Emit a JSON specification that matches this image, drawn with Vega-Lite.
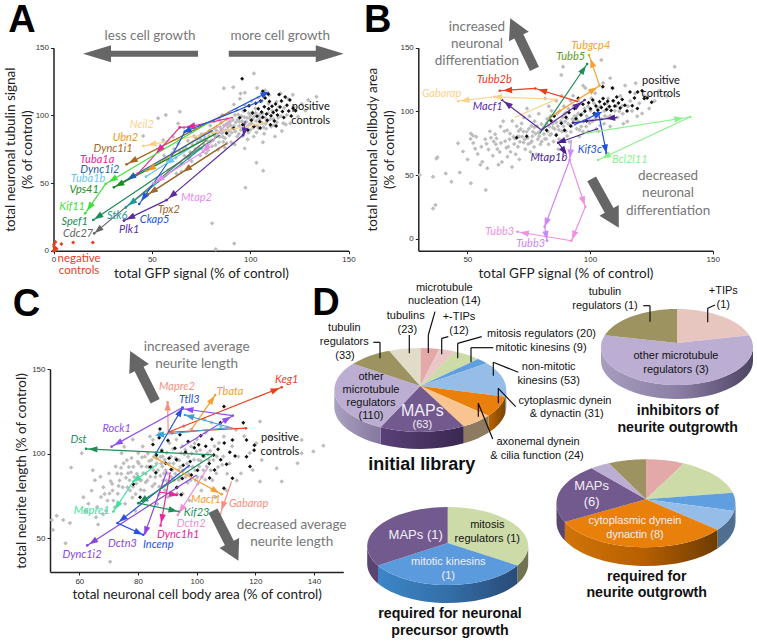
{"$schema":"https://vega.github.io/schema/vega-lite/v6.json","width":757,"height":642,"padding":0,"autosize":{"type":"none"},"background":"white",
"config":{"view":{"stroke":null},"axis":{"grid":false,"domainColor":"#222","domainWidth":1.5,"tickColor":"#222","tickSize":3,"labelFont":"Liberation Sans","labelFontSize":8,"labelColor":"#333","titleFont":"Lato","titleFontSize":13.5,"titleFontWeight":"normal","titleColor":"#222","titleLineHeight":17,"labelFlush":false},"text":{"font":"Lato"}},
"resolve":{"scale":{"x":"independent","y":"independent","color":"independent"},"axis":{"x":"independent","y":"independent"}},
"datasets":{
"grayA":[{"x":101.9,"y":131},{"x":91.4,"y":120.7},{"x":86.6,"y":120},{"x":97.3,"y":116.7},{"x":64.2,"y":102.7},{"x":57.1,"y":100.2},{"x":53.2,"y":97.8},{"x":66.4,"y":90.9},{"x":63.4,"y":94},{"x":55.8,"y":81.8},{"x":60.8,"y":84.2},{"x":45.6,"y":84.7},{"x":69.3,"y":69.5},{"x":103.2,"y":65},{"x":106.6,"y":59.1},{"x":97.6,"y":46.6},{"x":80.7,"y":20.2},{"x":91.9,"y":5.4},{"x":82.5,"y":1},{"x":58.3,"y":59.6},{"x":62.5,"y":57.1},{"x":65.1,"y":58.4},{"x":133.7,"y":113.8},{"x":129.5,"y":111.3},
{"x":56.2,"y":70.4},{"x":58.1,"y":66.3},{"x":60.4,"y":72.1},{"x":61.3,"y":75.2},{"x":62.2,"y":68.6},{"x":63.5,"y":79.1},{"x":64.4,"y":73.3},{"x":65.1,"y":64.7},{"x":66.6,"y":70.2},{"x":67.2,"y":76.4},{"x":68.3,"y":81.2},{"x":69.5,"y":72.8},{"x":70.2,"y":66.1},{"x":70.7,"y":78.3},{"x":71.4,"y":84.6},{"x":72.1,"y":75.2},{"x":73.3,"y":80.4},{"x":74.6,"y":70.3},{"x":75.2,"y":86.1},{"x":76.4,"y":78.7},{"x":77.1,"y":83.4},{"x":78.5,"y":74.2},{"x":79.3,"y":88.6},{"x":80.1,"y":81.3},{"x":71.8,"y":90.2},{"x":74.2,"y":92.4},{"x":77.6,"y":72.1},{"x":79.7,"y":92.5},{"x":81.2,"y":86.3},{"x":82.4,"y":78.1},{"x":83.1,"y":91.7},{"x":84.5,"y":84.2},{"x":85.2,"y":94.6},{"x":86.3,"y":80.5},{"x":87.6,"y":89.1},{"x":88.2,"y":97.3},{"x":89.4,"y":85.2},{"x":90.1,"y":92.7},{"x":81.6,"y":95.4},{"x":83.7,"y":74.6},{"x":85.8,"y":100.3},{"x":87.1,"y":76.2},{"x":89.6,"y":102.4},{"x":84.3,"y":97.1},{"x":86.7,"y":92.5},{"x":90.4,"y":80.1},{"x":91.2,"y":96.6},{"x":92.5,"y":88.3},{"x":93.1,"y":104.2},{"x":94.4,"y":92.1},{"x":95.6,"y":99.4},{"x":96.2,"y":84.7},{"x":97.4,"y":107.3},{"x":98.1,"y":95.2},{"x":99.3,"y":101.6},{"x":100.2,"y":89.4},{"x":91.7,"y":108.1},{"x":92.1,"y":78.4},{"x":94.8,"y":112.3},{"x":96.5,"y":103.2},{"x":98.7,"y":82.1},{"x":100.6,"y":110.4},{"x":93.4,"y":84.3},{"x":95.1,"y":116.2},{"x":99.8,"y":93.5},{"x":97.2,"y":75.6},{"x":101.3,"y":97.4},{"x":102.6,"y":105.1},{"x":103.2,"y":87.3},{"x":104.1,"y":113.2},{"x":105.4,"y":94.5},{"x":106.2,"y":101.3},{"x":107.5,"y":118.4},{"x":108.1,"y":90.2},{"x":109.3,"y":108.6},{"x":110.2,"y":97.1},{"x":101.8,"y":84.3},{"x":103.5,"y":120.2},{"x":105.7,"y":110.3},{"x":107.1,"y":86.4},{"x":109.6,"y":115.1},{"x":102.2,"y":92.6},{"x":104.7,"y":100.4},{"x":106.5,"y":80.2},{"x":111.3,"y":103.2},{"x":112.1,"y":92.7},{"x":113.4,"y":110.1},{"x":114.2,"y":98.3},{"x":115.5,"y":116.2},{"x":116.1,"y":88.4},{"x":117.3,"y":105.6},{"x":118.6,"y":100.2},{"x":119.2,"y":112.3},{"x":120.4,"y":94.1},{"x":122.1,"y":106.3},{"x":124.3,"y":99.2},{"x":126.2,"y":108.4},{"x":128.1,"y":103.5},{"x":121.7,"y":115.2},{"x":112.6,"y":84.3},{"x":116.8,"y":94.1},
{"x":75.3,"y":75.5},{"x":78.2,"y":81.2},{"x":80.6,"y":77.1},{"x":82.2,"y":84.3},{"x":84.1,"y":80.2},{"x":85.6,"y":86.7},{"x":87.2,"y":83.1},{"x":88.7,"y":91.4},{"x":90.6,"y":87.3},{"x":91.8,"y":92.2},{"x":93.6,"y":96.8},{"x":95.2,"y":89.1},{"x":96.8,"y":93.7},{"x":98.3,"y":98.2},{"x":99.1,"y":87.4},{"x":100.7,"y":94.1},{"x":102.1,"y":99.3},{"x":103.7,"y":92.2},{"x":105.1,"y":97.6},{"x":106.8,"y":91.2},{"x":108.4,"y":95.3},{"x":110.6,"y":91.7},{"x":83.4,"y":87.5},{"x":86.1,"y":84.2},{"x":89.1,"y":88.6},{"x":92.3,"y":100.3},{"x":94.2,"y":86.2},{"x":97.8,"y":90.1},{"x":101.1,"y":102.3},{"x":104.3,"y":90.4},{"x":107.6,"y":98.2},{"x":114.6,"y":106.4},{"x":118.1,"y":93.3},{"x":76.6,"y":86.1},{"x":73.8,"y":76.3},{"x":68.7,"y":68.2},{"x":66.1,"y":74.4},{"x":72.6,"y":83.2},{"x":81.9,"y":90.3},{"x":88.1,"y":79.4},
{"x":79.1,"y":84.7},{"x":81.1,"y":81.4},{"x":82.9,"y":88.6},{"x":84.8,"y":91.2},{"x":86.4,"y":88.3},{"x":87.9,"y":93.6},{"x":89.8,"y":95.2},{"x":90.9,"y":90.4},{"x":92.7,"y":94.8},{"x":93.9,"y":100.7},{"x":95.9,"y":95.6},{"x":97.1,"y":98.7},{"x":98.9,"y":92.3},{"x":100.1,"y":99.8},{"x":101.6,"y":91.1},{"x":103.1,"y":95.9},{"x":104.6,"y":96.7},{"x":106.1,"y":94.2},{"x":107.8,"y":93.8},{"x":109.1,"y":101.6},{"x":111.8,"y":97.4},{"x":113.6,"y":94.8},{"x":115.7,"y":99.3},{"x":96.4,"y":90.6},{"x":94.6,"y":95.3},{"x":88.9,"y":94.1},{"x":85.3,"y":89.4},{"x":80.4,"y":87.8},{"x":77.9,"y":78.1},{"x":74.7,"y":82.3},{"x":102.8,"y":101.7},{"x":99.7,"y":97.9}],
"blackA":[{"x":95.9,"y":127},{"x":88,"y":86.7},{"x":91.6,"y":90.4},{"x":94.7,"y":98.3},{"x":96.2,"y":93.1},{"x":97.3,"y":103.6},{"x":98.8,"y":89.2},{"x":99.4,"y":107.1},{"x":100.6,"y":96.4},{"x":101.2,"y":101.8},{"x":101.9,"y":91.7},{"x":102.8,"y":108.9},{"x":103.5,"y":99.3},{"x":104.1,"y":104.8},{"x":104.9,"y":95.2},{"x":105.3,"y":110.7},{"x":105.8,"y":102.4},{"x":106.4,"y":98.6},{"x":107.2,"y":106.3},{"x":107.6,"y":112.9},{"x":108.3,"y":101.1},{"x":108.7,"y":96.3},{"x":109.4,"y":104.9},{"x":109.8,"y":110.2},{"x":110.6,"y":99.7},{"x":111.1,"y":106.8},{"x":111.7,"y":102.2},{"x":112.3,"y":95.8},{"x":112.9,"y":108.4},{"x":113.4,"y":103.7},{"x":113.9,"y":100.2},{"x":114.7,"y":115.4},{"x":115.2,"y":106.1},{"x":115.9,"y":110.6},{"x":116.4,"y":102.9},{"x":117.1,"y":98.4},{"x":117.8,"y":113.6},{"x":118.7,"y":107.4},{"x":119.6,"y":103.2},{"x":120.2,"y":111.3},{"x":121.8,"y":105.2},{"x":123.1,"y":103.4},{"x":120.9,"y":99.6},{"x":106.4,"y":117.8},{"x":110.3,"y":93.1},{"x":113.2,"y":92.2},{"x":109.2,"y":115.7},{"x":105.1,"y":90.6}],
"neg":[{"x":0,"y":0},{"x":0.5,"y":1},{"x":1,"y":2},{"x":0.3,"y":3},{"x":1,"y":0.5},{"x":1.5,"y":1.5},{"x":1,"y":6.5},{"x":4,"y":5},{"x":10,"y":6},{"x":20,"y":6},{"x":0.2,"y":4.5}],
"arrA":[
{"g":"Neil2","x":108,"y":94.6,"x2":45.6,"y2":77.3,"hx":50.3,"hy":78.8},
{"g":"Ubn2","x":88,"y":97,"x2":47.3,"y2":59,"hx":49.8,"hy":60.8},
{"g":"Dync1i1","x":89.7,"y":102.7,"x2":37.1,"y2":63.8,"hx":40.5,"hy":66.5},
{"g":"Tuba1a","x":91.4,"y":98.5,"x2":68.5,"y2":91.4,"hx":70,"hy":91.9},
{"g":"Tuba1a","x":68.5,"y":91.4,"x2":64.2,"y2":91.1},
{"g":"Tuba1a","x":64.2,"y":91.1,"x2":43,"y2":57,"hx":54,"hy":75},
{"g":"Dync1i2","x":81,"y":89,"x2":34.6,"y2":50.2,"hx":39.7,"hy":54.5},
{"g":"Tuba1b","x":77,"y":83,"x2":47,"y2":54.7,"hx":59,"hy":66},
{"g":"Vps41","x":82.9,"y":86.7,"x2":30.7,"y2":46.8,"hx":33.7,"hy":49.1},
{"g":"Kif11","x":81.2,"y":96.6,"x2":26.6,"y2":49.5,"hx":30.3,"hy":52.7},
{"g":"Kif11","x":26.6,"y":49.5,"x2":16.1,"y2":27.6,"hx":18.5,"hy":32.6},
{"g":"Spef1","x":84.6,"y":85.5,"x2":20.2,"y2":22.7,"hx":22.9,"hy":25.3},
{"g":"Cdc27","x":77.8,"y":81.8,"x2":20.7,"y2":12.8,"hx":22.9,"hy":15.5},
{"g":"Stk6","x":76.1,"y":76.8,"x2":36.8,"y2":32,"hx":40,"hy":35.7},
{"g":"Ckap5","x":106.6,"y":111.3,"x2":66.8,"y2":88,"hx":68,"hy":88.7},
{"g":"Ckap5","x":90,"y":103,"x2":107.5,"y2":116,"hx":107.5,"hy":116},
{"g":"Ckap5","x":66.8,"y":88,"x2":59,"y2":67},
{"g":"Ckap5","x":59,"y":67,"x2":43.6,"y2":34.5,"hx":46,"hy":39.5},
{"g":"Plk1","x":96.4,"y":85.5,"x2":57.5,"y2":37.4,"hx":60.5,"hy":41.1},
{"g":"Plk1","x":97.5,"y":96,"x2":96.4,"y2":85.5,"hx":97,"hy":88},
{"g":"Plk1","x":57.5,"y":37.4,"x2":35.8,"y2":22.2,"hx":39.3,"hy":24.6},
{"g":"Tpx2","x":88,"y":79.3,"x2":48,"y2":41.6,"hx":68,"hy":60.4},
{"g":"Tpx2","x":88,"y":79.3,"x2":48,"y2":41.6,"hx":50.7,"hy":44.1},
{"g":"Mtap2","x":90,"y":97,"x2":76.1,"y2":73.2,"hx":77.5,"hy":75.6},
{"g":"Mtap2","x":76.1,"y":73.2,"x2":50.7,"y2":49.8,"hx":54,"hy":52.8}],
"labA":[{"g":"Neil2","t":"Neil2","x":44.9,"y":92.6},{"g":"Ubn2","t":"Ubn2","x":36.6,"y":83.5},{"g":"Dync1i1","t":"Dync1i1","x":30.3,"y":75.4},{"g":"Tuba1a","t":"Tuba1a","x":22.2,"y":67},{"g":"Dync1i2","t":"Dync1i2","x":23.6,"y":60},{"g":"Tuba1b","t":"Tuba1b","x":17.6,"y":53},{"g":"Vps41","t":"Vps41","x":15.6,"y":44.8},{"g":"Kif11","t":"Kif11","x":9.5,"y":32.3},{"g":"Spef1","t":"Spef1","x":10.8,"y":21.4},{"g":"Cdc27","t":"Cdc27","x":12.5,"y":12},{"g":"Stk6","t":"Stk6","x":32.4,"y":26},{"g":"Ckap5","t":"Ckap5","x":51.4,"y":22.7},{"g":"Plk1","t":"Plk1","x":38.5,"y":15.3},{"g":"Tpx2","t":"Tpx2","x":58.6,"y":30},{"g":"Mtap2","t":"Mtap2","x":72.7,"y":38.7}],
"grayB":[{"x":30.6,"y":50},{"x":37.4,"y":63},{"x":37.8,"y":64},{"x":46.2,"y":74.9},{"x":36,"y":48.7},{"x":41.2,"y":51.3},{"x":43.5,"y":44.8},{"x":46.9,"y":52},{"x":51.4,"y":43.5},{"x":57.5,"y":38.2},{"x":36,"y":23.8},{"x":37,"y":26.4},{"x":51.4,"y":82.7},{"x":52.3,"y":81},
{"x":48.2,"y":68.4},{"x":50.1,"y":62.3},{"x":52.4,"y":75.2},{"x":51.3,"y":78.4},{"x":53.6,"y":80.1},{"x":54.2,"y":66.5},{"x":55.7,"y":72.3},{"x":56.1,"y":60.4},{"x":57.3,"y":78.2},{"x":58.6,"y":70.1},{"x":59.2,"y":84.3},{"x":60.4,"y":65.2},{"x":55.3,"y":58.1},{"x":58.1,"y":55.4},{"x":53.2,"y":70.6},{"x":60.7,"y":76.3},{"x":61.3,"y":82.1},{"x":62.2,"y":70.4},{"x":63.5,"y":88.2},{"x":64.1,"y":60.3},{"x":65.4,"y":76.6},{"x":66.2,"y":85.1},{"x":67.6,"y":68.2},{"x":68.3,"y":92.4},{"x":69.1,"y":74.3},{"x":70.4,"y":80.2},{"x":62.7,"y":58.1},{"x":64.6,"y":92.2},{"x":66.3,"y":64.4},{"x":68.2,"y":56.3},{"x":70.1,"y":88.4},{"x":61.6,"y":74.2},{"x":65.1,"y":84.3},{"x":67.2,"y":78.1},{"x":69.7,"y":66.3},{"x":63.2,"y":68.1},{"x":71.4,"y":76.2},{"x":72.1,"y":90.4},{"x":73.6,"y":70.3},{"x":74.2,"y":84.1},{"x":75.3,"y":96.2},{"x":76.5,"y":80.4},{"x":77.2,"y":72.1},{"x":78.4,"y":88.3},{"x":79.1,"y":98.2},{"x":80.3,"y":76.4},{"x":71.2,"y":62.3},{"x":73.1,"y":95.2},{"x":75.7,"y":68.1},{"x":77.4,"y":92.3},{"x":79.6,"y":84.2},{"x":72.3,"y":80.1},{"x":74.8,"y":74.3},{"x":76.1,"y":88.6},{"x":78.7,"y":78.2},{"x":80.2,"y":90.1},{"x":74.3,"y":102.2},{"x":78.1,"y":66.4},{"x":71.7,"y":86.2},{"x":81.2,"y":82.3},{"x":82.5,"y":94.1},{"x":83.1,"y":74.2},{"x":84.3,"y":100.4},{"x":85.6,"y":86.1},{"x":86.2,"y":108.3},{"x":87.4,"y":78.2},{"x":88.1,"y":92.3},{"x":89.3,"y":104.1},{"x":90.2,"y":84.4},{"x":81.7,"y":110.2},{"x":83.4,"y":88.1},{"x":85.2,"y":96.3},{"x":87.1,"y":70.2},{"x":89.6,"y":98.1},{"x":82.1,"y":78.3},{"x":84.7,"y":90.2},{"x":86.3,"y":82.1},{"x":88.4,"y":112.2},{"x":90.6,"y":94.3},{"x":83.2,"y":104.1},{"x":87.6,"y":100.2},{"x":85.1,"y":76.3},{"x":89.2,"y":88.4},{"x":88.3,"y":128.5},{"x":89,"y":135},{"x":91.2,"y":102.1},{"x":92.4,"y":88.3},{"x":93.1,"y":112.2},{"x":94.3,"y":96.1},{"x":95.6,"y":80.3},{"x":96.2,"y":106.2},{"x":97.4,"y":92.1},{"x":98.1,"y":118.3},{"x":99.3,"y":84.2},{"x":100.2,"y":100.4},{"x":91.6,"y":76.1},{"x":93.7,"y":96.2},{"x":95.1,"y":108.3},{"x":97.2,"y":120.1},{"x":99.6,"y":94.2},{"x":92.1,"y":108.4},{"x":94.6,"y":86.3},{"x":96.7,"y":98.1},{"x":98.4,"y":88.2},{"x":100.5,"y":110.3},{"x":95.3,"y":92.2},{"x":93.2,"y":104.1},{"x":101.2,"y":92.4},{"x":102.1,"y":114.2},{"x":103.4,"y":84.3},{"x":104.2,"y":104.1},{"x":105.3,"y":122.2},{"x":106.1,"y":96.3},{"x":107.4,"y":110.2},{"x":108.2,"y":88.1},{"x":109.3,"y":118.2},{"x":110.1,"y":100.4},{"x":101.6,"y":106.3},{"x":103.2,"y":96.1},{"x":105.7,"y":90.2},{"x":107.1,"y":102.3},{"x":109.6,"y":108.1},{"x":104.6,"y":140.3},{"x":102.6,"y":86.2},{"x":108.2,"y":126.1},{"x":111.2,"y":95.3},{"x":112.4,"y":112.1},{"x":113.1,"y":104.2},{"x":114.3,"y":120.3},{"x":115.2,"y":92.1},{"x":116.4,"y":108.2},{"x":117.1,"y":100.3},{"x":118.3,"y":114.1},{"x":119.2,"y":96.2},{"x":120.1,"y":106.3},{"x":122.2,"y":112.1},{"x":124.1,"y":102.2},{"x":126.3,"y":108.1},{"x":113.6,"y":90.2},{"x":118.6,"y":122.1},{"x":121.2,"y":98.3},{"x":134.5,"y":135},{"x":128.1,"y":116.2},{"x":131.2,"y":112.1},
{"x":72.8,"y":84.2},{"x":76.7,"y":84.1},{"x":79.3,"y":80.4},{"x":81.4,"y":88.2},{"x":82.8,"y":84.1},{"x":84.2,"y":82.3},{"x":85.8,"y":92.1},{"x":86.9,"y":88.3},{"x":88.6,"y":84.2},{"x":89.8,"y":92.1},{"x":91.1,"y":90.2},{"x":92.8,"y":94.1},{"x":93.9,"y":90.3},{"x":95.2,"y":98.4},{"x":96.4,"y":88.1},{"x":97.8,"y":102.2},{"x":98.6,"y":96.3},{"x":99.2,"y":104.1},{"x":100.8,"y":92.4},{"x":101.9,"y":98.2},{"x":103.1,"y":102.3},{"x":104.7,"y":94.1},{"x":105.8,"y":100.2},{"x":106.9,"y":106.1},{"x":108.3,"y":96.4},{"x":109.7,"y":94.2},{"x":110.8,"y":104.3},{"x":111.9,"y":100.1},{"x":113.3,"y":98.2},{"x":115.4,"y":104.1},{"x":66.7,"y":72.3},{"x":68.8,"y":80.1},{"x":70.6,"y":72.2},{"x":73.4,"y":78.1},{"x":75.1,"y":86.3},{"x":77.8,"y":82.4},{"x":80.7,"y":86.1},{"x":83.9,"y":96.2},{"x":86.6,"y":98.3},{"x":90.3,"y":99.1},
{"x":63.7,"y":75.2},{"x":65.9,"y":71.4},{"x":67.4,"y":82.6},{"x":69.3,"y":78.7},{"x":71.1,"y":80.3},{"x":72.9,"y":75.6},{"x":74.6,"y":79.1},{"x":75.9,"y":75.3},{"x":77.3,"y":87.6},{"x":78.9,"y":83.2},{"x":79.8,"y":74.1},{"x":81.6,"y":78.4},{"x":82.3,"y":90.7},{"x":83.7,"y":81.4},{"x":84.9,"y":87.1},{"x":86.2,"y":91.3},{"x":87.3,"y":85.4},{"x":88.8,"y":95.2},{"x":90.7,"y":80.6},{"x":92.2,"y":83.9},{"x":93.4,"y":92.6},{"x":95.7,"y":85.3},{"x":97.1,"y":84.1},{"x":99.8,"y":90.7},{"x":102.3,"y":94.6},{"x":104.1,"y":88.9},{"x":107.3,"y":95.1},{"x":59.6,"y":79.3},{"x":57.8,"y":74.6},{"x":61.9,"y":78.8},{"x":76.2,"y":76.6},{"x":70.9,"y":84.5}],
"blackB":[{"x":70.1,"y":79.2},{"x":74.2,"y":80.4},{"x":82.3,"y":85.1},{"x":84.1,"y":92.6},{"x":85.4,"y":96.3},{"x":86.2,"y":81.3},{"x":88.3,"y":90.7},{"x":89.6,"y":85.2},{"x":90.2,"y":95.4},{"x":91.4,"y":99.1},{"x":92.1,"y":88.6},{"x":93.7,"y":102.3},{"x":94.3,"y":94.2},{"x":95.2,"y":110.4},{"x":96.3,"y":97.1},{"x":97.1,"y":105.6},{"x":97.9,"y":100.1},{"x":98.6,"y":92.4},{"x":99.4,"y":106.7},{"x":100.2,"y":102.1},{"x":101.1,"y":108.9},{"x":101.7,"y":98.3},{"x":102.4,"y":104.2},{"x":103.2,"y":100.9},{"x":103.9,"y":107.6},{"x":104.6,"y":103.1},{"x":105.3,"y":110.2},{"x":105.9,"y":105.7},{"x":106.7,"y":101.4},{"x":107.2,"y":107.9},{"x":107.9,"y":103.8},{"x":108.6,"y":100.6},{"x":109.4,"y":108.4},{"x":110.1,"y":104.3},{"x":110.9,"y":111.2},{"x":111.6,"y":106.6},{"x":112.3,"y":102.7},{"x":113.1,"y":109.3},{"x":114.2,"y":104.9},{"x":115.1,"y":100.3},{"x":116.3,"y":115.2},{"x":117.2,"y":104.4},{"x":118.1,"y":110.6},{"x":119.3,"y":102.3},{"x":121.2,"y":116.1},{"x":122.1,"y":110.2},{"x":123.3,"y":110.6},{"x":125.1,"y":107.2},{"x":119.4,"y":115.3},{"x":109.1,"y":118.4},{"x":105.2,"y":119.3}],
"arrB":[
{"g":"Tubgcp4","x":82.9,"y":94.5,"x2":103.9,"y2":120.2,"hx":101.2,"hy":116.8},
{"g":"Tubgcp4","x":103.9,"y":120.2,"x2":99.6,"y2":144.2,"hx":100.8,"hy":137.7},
{"g":"Tubb5","x":79.5,"y":82.7,"x2":98.8,"y2":137.2,"hx":97.2,"hy":132.5},
{"g":"Tubb2b","x":95.1,"y":107.6,"x2":77.7,"y2":118,"hx":80.8,"hy":116.2},
{"g":"Tubb2b","x":77.7,"y":118,"x2":63.2,"y2":116.2,"hx":66.6,"hy":116.6},
{"g":"Gabarap","x":87,"y":109.4,"x2":61.1,"y2":111.5,"hx":62.5,"hy":111.4},
{"g":"Gabarap","x":61.1,"y":111.5,"x2":46.2,"y2":108.1,"hx":49.2,"hy":108.8},
{"g":"Gabarap","x":69.3,"y":95.3,"x2":85.6,"y2":108.9},
{"g":"Macf1","x":80.2,"y":85.3,"x2":64.1,"y2":108.9,"hx":66.5,"hy":105.6},
{"g":"Macf1","x":80.2,"y":85.3,"x2":97.8,"y2":108.9,"hx":95,"hy":105},
{"g":"Mtap1b","x":111.1,"y":95.3,"x2":93,"y2":91,"hx":108.6,"hy":94.7},
{"g":"Mtap1b","x":103.3,"y":86.6,"x2":87,"y2":75.4,"hx":88.4,"hy":76.4},
{"g":"Mtap1b","x":87,"y":75.4,"x2":89.7,"y2":68.3,"hx":89.4,"hy":69},
{"g":"Kif3c","x":93.5,"y":89.3,"x2":103.5,"y2":98.4,"hx":103.2,"hy":98},
{"g":"Kif3c","x":103.5,"y":98.4,"x2":106.7,"y2":67,"hx":106.3,"hy":70.9},
{"g":"Bcl2l11","x":97.8,"y":82.7,"x2":140.8,"y2":95.6,"hx":136,"hy":94.2},
{"g":"Bcl2l11","x":140.8,"y":95.6,"x2":103.3,"y2":61.8,"hx":106.7,"hy":64.9},
{"g":"Tubb3v","x":92.4,"y":77.5,"x2":91.7,"y2":61.8,"hx":92,"hy":67},
{"g":"Tubb3v","x":91.7,"y":61.8,"x2":81.5,"y2":9.4,"hx":82.2,"hy":13},
{"g":"Tubb3v","x":81.5,"y":9.4,"x2":82.5,"y2":-1.6,"hx":82.1,"hy":2.9},
{"g":"Tubb3p","x":91.7,"y":61.8,"x2":98.1,"y2":25.1,"hx":97.2,"hy":30},
{"g":"Tubb3p","x":98.1,"y":25.1,"x2":92.4,"y2":-1.6,"hx":93.4,"hy":2.9},
{"g":"Tubb3p","x":92.4,"y":-1.6,"x2":70.4,"y2":5.5,"hx":73.4,"hy":4.5}],
"labB":[{"g":"Tubgcp4","t":"Tubgcp4","x":100.3,"y":151.3},{"g":"Tubb5l","t":"Tubb5","x":92.1,"y":142.4},{"g":"Tubb2b","t":"Tubb2b","x":61,"y":124.6},{"g":"Gabarap","t":"Gabarap","x":39.5,"y":113.6},{"g":"Macf1","t":"Macf1","x":58.3,"y":103.7},{"g":"Mtap1b","t":"Mtap1b","x":83.2,"y":63},{"g":"Kif3c","t":"Kif3c","x":99.9,"y":69.6},{"g":"Bcl2l11","t":"Bcl2l11","x":116.2,"y":61.8},{"g":"Tubb3v","t":"Tubb3","x":75.8,"y":-4.2},{"g":"Tubb3p","t":"Tubb3","x":63.2,"y":5.5}],
"grayC":[{"x":51,"y":54.9},{"x":50.6,"y":60.8},{"x":54.5,"y":60.8},{"x":52.3,"y":63.2},{"x":55.3,"y":47},{"x":70.5,"y":36},{"x":56.8,"y":59},{"x":57.2,"y":91.7},{"x":60.8,"y":100.2},
{"x":61.4,"y":74.2},{"x":63.1,"y":70.3},{"x":64.2,"y":78.1},{"x":65.3,"y":84.2},{"x":66.1,"y":68.4},{"x":67.4,"y":74.3},{"x":68.2,"y":80.1},{"x":69.6,"y":72.2},{"x":70.1,"y":88.3},{"x":62.2,"y":66.1},{"x":65.7,"y":62.3},{"x":68.1,"y":64.2},{"x":70.3,"y":76.4},{"x":64.6,"y":90.1},{"x":67.2,"y":86.3},{"x":69.1,"y":66.2},{"x":66.4,"y":58.1},{"x":71.2,"y":82.1},{"x":72.4,"y":92.3},{"x":73.1,"y":76.2},{"x":74.3,"y":88.1},{"x":75.6,"y":70.4},{"x":76.2,"y":96.1},{"x":77.1,"y":84.3},{"x":78.4,"y":92.2},{"x":79.2,"y":76.1},{"x":80.1,"y":100.3},{"x":71.6,"y":72.2},{"x":73.7,"y":84.1},{"x":75.1,"y":94.3},{"x":77.3,"y":78.2},{"x":79.6,"y":88.1},{"x":72.1,"y":68.3},{"x":74.4,"y":100.2},{"x":76.6,"y":88.4},{"x":78.1,"y":74.1},{"x":80.7,"y":84.2},{"x":75.3,"y":104.1},{"x":78.2,"y":108.3},{"x":79.1,"y":66.2},{"x":76.4,"y":80.1},{"x":81.2,"y":92.3},{"x":82.1,"y":78.2},{"x":83.4,"y":100.1},{"x":84.2,"y":86.3},{"x":85.1,"y":108.2},{"x":86.3,"y":94.1},{"x":87.2,"y":80.4},{"x":88.1,"y":102.2},{"x":89.4,"y":90.1},{"x":90.2,"y":74.3},{"x":81.6,"y":104.2},{"x":82.7,"y":88.1},{"x":83.1,"y":72.3},{"x":84.6,"y":96.2},{"x":85.7,"y":82.1},{"x":86.1,"y":100.3},{"x":87.4,"y":112.2},{"x":88.6,"y":84.1},{"x":89.1,"y":96.3},{"x":90.7,"y":106.2},{"x":81.1,"y":84.3},{"x":83.6,"y":92.1},{"x":85.3,"y":90.2},{"x":87.7,"y":98.1},{"x":89.2,"y":78.3},{"x":82.4,"y":98.2},{"x":84.1,"y":110.1},{"x":86.6,"y":70.2},{"x":88.3,"y":92.4},{"x":90.1,"y":88.3},{"x":91.2,"y":98.1},{"x":92.3,"y":84.2},{"x":93.1,"y":108.3},{"x":94.4,"y":92.1},{"x":95.2,"y":76.2},{"x":96.1,"y":102.3},{"x":97.3,"y":88.1},{"x":98.2,"y":114.2},{"x":99.1,"y":96.3},{"x":100.4,"y":82.1},{"x":91.6,"y":112.2},{"x":93.7,"y":90.1},{"x":95.1,"y":104.3},{"x":97.6,"y":72.2},{"x":99.3,"y":106.1},{"x":92.1,"y":94.2},{"x":94.7,"y":100.3},{"x":96.2,"y":86.1},{"x":98.6,"y":92.2},{"x":100.1,"y":108.3},{"x":93.3,"y":80.1},{"x":95.6,"y":116.2},{"x":97.1,"y":98.1},{"x":99.7,"y":84.3},{"x":100.6,"y":96.2},{"x":101.2,"y":102.1},{"x":102.3,"y":90.2},{"x":103.1,"y":112.3},{"x":104.2,"y":96.1},{"x":105.4,"y":84.2},{"x":106.1,"y":104.3},{"x":107.3,"y":92.1},{"x":108.2,"y":116.2},{"x":109.1,"y":98.3},{"x":110.4,"y":88.1},{"x":101.6,"y":78.2},{"x":103.7,"y":100.1},{"x":105.1,"y":118.3},{"x":107.6,"y":106.2},{"x":109.3,"y":110.1},{"x":111.2,"y":94.2},{"x":112.1,"y":104.3},{"x":113.4,"y":114.1},{"x":114.2,"y":98.2},{"x":115.1,"y":88.3},{"x":102.7,"y":120.1},{"x":106.4,"y":74.2},{"x":110.1,"y":78.3},{"x":113.7,"y":84.1},{"x":116.2,"y":110.2},{"x":118.1,"y":100.3},{"x":120.3,"y":106.1},{"x":122.2,"y":96.2},{"x":121.6,"y":118.9},{"x":121.6,"y":83.5},{"x":127.3,"y":91.3},{"x":129,"y":83.5},{"x":135.8,"y":108},{"x":143.2,"y":104.7},{"x":139.8,"y":101.2},{"x":135.8,"y":100.2},{"x":134.4,"y":94.3},{"x":125.2,"y":110.1},{"x":119.1,"y":90.3},
{"x":78.7,"y":86.2},{"x":80.3,"y":94.1},{"x":81.8,"y":88.4},{"x":83.2,"y":84.1},{"x":84.7,"y":92.3},{"x":85.9,"y":86.2},{"x":86.8,"y":90.1},{"x":87.9,"y":94.2},{"x":88.8,"y":88.3},{"x":89.7,"y":84.1},{"x":90.6,"y":94.2},{"x":91.8,"y":90.3},{"x":92.7,"y":88.1},{"x":93.6,"y":96.2},{"x":94.2,"y":86.3},{"x":95.3,"y":90.1},{"x":96.7,"y":94.2},{"x":97.9,"y":84.3},{"x":98.3,"y":100.1},{"x":99.4,"y":90.2},{"x":100.9,"y":92.3},{"x":101.8,"y":86.1},{"x":102.6,"y":98.2},{"x":103.4,"y":92.3},{"x":104.8,"y":90.1},{"x":105.7,"y":96.2},{"x":106.7,"y":88.3},{"x":74.8,"y":80.1},{"x":72.9,"y":88.2},{"x":76.9,"y":92.1},{"x":79.4,"y":82.3},{"x":82.9,"y":92.2},{"x":85.4,"y":98.1},{"x":88.4,"y":98.3},{"x":91.4,"y":86.2},{"x":94.1,"y":96.1},{"x":97.2,"y":92.3},{"x":100.3,"y":86.2},{"x":68.6,"y":76.1},{"x":71.3,"y":78.2},
{"x":74.2,"y":91.6},{"x":75.9,"y":85.7},{"x":77.6,"y":88.9},{"x":78.3,"y":80.4},{"x":80.9,"y":78.6},{"x":81.4,"y":97.8},{"x":82.6,"y":83.1},{"x":83.8,"y":95.6},{"x":84.9,"y":80.7},{"x":86.4,"y":97.4},{"x":87.6,"y":86.9},{"x":88.2,"y":80.3},{"x":89.8,"y":100.6},{"x":90.8,"y":83.2},{"x":91.9,"y":102.7},{"x":92.9,"y":97.3},{"x":93.9,"y":84.4},{"x":95.8,"y":99.6},{"x":96.9,"y":82.8},{"x":98.1,"y":104.2},{"x":99.9,"y":101.3},{"x":101.4,"y":95.8},{"x":102.9,"y":84.6},{"x":104.6,"y":101.7},{"x":106.9,"y":98.3},{"x":108.7,"y":93.4},{"x":79.9,"y":95.2},{"x":77.8,"y":97.4},{"x":73.4,"y":80.9},{"x":70.7,"y":83.6},{"x":87.1,"y":75.8},{"x":93.4,"y":76.4}],
"blackC":[{"x":109.3,"y":127.8},{"x":115.9,"y":118.3},{"x":117,"y":108},{"x":119.7,"y":105},{"x":119.6,"y":102},{"x":117,"y":98.2},{"x":118.2,"y":92.3},{"x":112.2,"y":85.4},{"x":109.3,"y":79.5},{"x":93.2,"y":80},{"x":94.7,"y":75.6},{"x":80.7,"y":74.2},{"x":78.4,"y":81.9},{"x":87.5,"y":114.6},{"x":85.1,"y":105.3},{"x":86.3,"y":99.2},{"x":87.2,"y":109.4},{"x":88.1,"y":101.6},{"x":89.4,"y":94.3},{"x":90.2,"y":107.7},{"x":91.3,"y":90.6},{"x":92.6,"y":103.1},{"x":93.1,"y":96.4},{"x":94.3,"y":111.2},{"x":95.4,"y":93.1},{"x":96.2,"y":100.8},{"x":97.1,"y":107.2},{"x":97.8,"y":95.3},{"x":99.2,"y":103.4},{"x":100.3,"y":90.1},{"x":101.4,"y":110.6},{"x":102.2,"y":98.7},{"x":103.1,"y":104.3},{"x":104.3,"y":94.2},{"x":105.2,"y":108.4},{"x":106.1,"y":90.3},{"x":107.3,"y":102.6},{"x":108.2,"y":96.4},{"x":109.4,"y":106.2},{"x":110.2,"y":93.7},{"x":111.3,"y":100.8},{"x":112.2,"y":108.1},{"x":113.1,"y":98.6},{"x":90.6,"y":97.2},{"x":95.1,"y":85.3},{"x":100.7,"y":105.2},{"x":105.8,"y":99.1},{"x":98.2,"y":87.4},{"x":104.4,"y":85.6},{"x":86.1,"y":88.7},{"x":84.2,"y":92.1},{"x":108.1,"y":118.2}],
"arrC":[
{"g":"Keg1","x":90.3,"y":112.6,"x2":129,"y2":139.2,"hx":126.7,"hy":137.6},
{"g":"Keg1","x":90.3,"y":112.6,"x2":116.8,"y2":115},
{"g":"Tbata","x":97.7,"y":113,"x2":106.3,"y2":134.6,"hx":105.2,"hy":131.7},
{"g":"Mapre2","x":90.3,"y":112.6,"x2":90.1,"y2":130.3,"hx":90.1,"hy":127.8},
{"g":"Ttll3","x":85.8,"y":99.2,"x2":95.2,"y2":127.2,"hx":94.3,"hy":124.4},
{"g":"Rock1","x":95.2,"y":127.2,"x2":71,"y2":104.1,"hx":73.3,"hy":106.3},
{"g":"Rock1","x":112.3,"y":122.4,"x2":95.2,"y2":126.5,"hx":97.5,"hy":126},
{"g":"Rock1","x":94.3,"y":103.1,"x2":112.3,"y2":122.4,"hx":110.3,"hy":120.3},
{"g":"Dst","x":105.7,"y":99.2,"x2":62.3,"y2":102.8,"hx":64.8,"hy":102.6},
{"g":"Ltb","x":112.5,"y":115,"x2":96,"y2":122.8,"hx":97.7,"hy":122},
{"g":"Ltb","x":111,"y":115.4,"x2":86.9,"y2":111,"hx":87.5,"hy":111.1},
{"g":"Mapre1","x":86.4,"y":93.3,"x2":78.4,"y2":83.5,"hx":79.5,"hy":84.8},
{"g":"Mapre1","x":78.4,"y":83.5,"x2":71.6,"y2":65.7,"hx":73,"hy":69.4},
{"g":"Dync1i2","x":100,"y":87.4,"x2":62.7,"y2":45.7,"hx":64.8,"hy":48},
{"g":"Incenp","x":97.7,"y":93.3,"x2":73,"y2":58.9,"hx":74.8,"hy":61.4},
{"g":"Incenp","x":73,"y":58.9,"x2":81.8,"y2":52,"hx":80.1,"hy":53.3},
{"g":"Dync1i2","x":89.8,"y":89.4,"x2":82.4,"y2":53,"hx":82.7,"hy":54.5},
{"g":"Dync1h1","x":91,"y":89,"x2":87.7,"y2":57.5,"hx":88.2,"hy":61.8},
{"g":"Dync1h1","x":87.3,"y":77.2,"x2":93.2,"y2":75.6,"hx":92,"hy":75.9},
{"g":"Dctn2","x":104,"y":92.3,"x2":93.6,"y2":63.8,"hx":94.9,"hy":67.3},
{"g":"Kif23","x":105.7,"y":99.2,"x2":80.1,"y2":70.7,"hx":81.8,"hy":72.6},
{"g":"Kif23","x":80.1,"y":70.7,"x2":94.1,"y2":65.7,"hx":91.8,"hy":66.5},
{"g":"Macf1","x":85.2,"y":98.2,"x2":108.5,"y2":76,"hx":106.3,"hy":78.1},
{"g":"Gabarap","x":111.9,"y":83.5,"x2":108,"y2":63.8,"hx":109,"hy":69.3}],
"labC":[{"g":"Keg1","t":"Keg1","x":130.7,"y":143.5},{"g":"Tbata","t":"Tbata","x":111.4,"y":136.4},{"g":"Mapre2","t":"Mapre2","x":93.3,"y":139.2},{"g":"Ttll3","t":"Ttll3","x":97.5,"y":131.5},{"g":"Rock1","t":"Rock1","x":72.7,"y":114.6},{"g":"Dst","t":"Dst","x":59.7,"y":107.9},{"g":"Mapre1","t":"Mapre1","x":64.2,"y":66.1},{"g":"Dync1i2","t":"Dync1i2","x":60.9,"y":40.2},{"g":"Dync1i2","t":"Dctn3","x":74.7,"y":46.5},{"g":"Incenp","t":"Incenp","x":86.9,"y":45.7},{"g":"Dync1h1","t":"Dync1h1","x":93.7,"y":51.6},{"g":"Dctn2","t":"Dctn2","x":98.1,"y":58.1},{"g":"Kif23","t":"Kif23","x":100,"y":64.8},{"g":"Macf1","t":"Macf1","x":103.2,"y":72.4},{"g":"Gabarap","t":"Gabarap","x":117.7,"y":70}],
"slices":[
{"k":"l1","pie":"initial library","slice":"microtubule nucleation","n":14,"cx":420.3,"cy":390},
{"k":"l2","pie":"initial library","slice":"+-TIPs","n":12,"cx":420.3,"cy":390},
{"k":"l3","pie":"initial library","slice":"mitosis regulators","n":20,"cx":420.3,"cy":390},
{"k":"l4","pie":"initial library","slice":"mitotic kinesins","n":9,"cx":420.3,"cy":390},
{"k":"l5","pie":"initial library","slice":"non-mitotic kinesins","n":53,"cx":420.3,"cy":390},
{"k":"l6","pie":"initial library","slice":"cytoplasmic dynein & dynactin","n":31,"cx":420.3,"cy":390},
{"k":"l7","pie":"initial library","slice":"axonemal dynein & cilia function","n":24,"cx":420.3,"cy":390},
{"k":"l8","pie":"initial library","slice":"MAPs","n":63,"cx":420.3,"cy":390},
{"k":"l9","pie":"initial library","slice":"other microtubule regulators","n":110,"cx":420.3,"cy":390},
{"k":"l10","pie":"initial library","slice":"tubulin regulators","n":33,"cx":420.3,"cy":390},
{"k":"l11","pie":"initial library","slice":"tubulins","n":23,"cx":420.3,"cy":390},
{"k":"i1","pie":"inhibitors of neurite outgrowth","slice":"+TIPs","n":1,"cx":677,"cy":347},
{"k":"i2","pie":"inhibitors of neurite outgrowth","slice":"other microtubule regulators","n":3,"cx":677,"cy":347},
{"k":"i3","pie":"inhibitors of neurite outgrowth","slice":"tubulin regulators","n":1,"cx":677,"cy":347},
{"k":"p1","pie":"required for neuronal precursor growth","slice":"mitosis regulators","n":1,"cx":447.7,"cy":546},
{"k":"p2","pie":"required for neuronal precursor growth","slice":"mitotic kinesins","n":1,"cx":447.7,"cy":546},
{"k":"p3","pie":"required for neuronal precursor growth","slice":"MAPs","n":1,"cx":447.7,"cy":546},
{"k":"n1","pie":"required for neurite outgrowth","slice":"microtubule nucleation","n":2,"cx":646,"cy":503.3},
{"k":"n2","pie":"required for neurite outgrowth","slice":"mitosis regulators","n":4,"cx":646,"cy":503.3},
{"k":"n3","pie":"required for neurite outgrowth","slice":"mitotic kinesins","n":2,"cx":646,"cy":503.3},
{"k":"n4","pie":"required for neurite outgrowth","slice":"non-mitotic kinesins","n":2,"cx":646,"cy":503.3},
{"k":"n5","pie":"required for neurite outgrowth","slice":"cytoplasmic dynein dynactin","n":8,"cx":646,"cy":503.3},
{"k":"n6","pie":"required for neurite outgrowth","slice":"MAPs","n":6,"cx":646,"cy":503.3},
{"k":"n7","pie":"required for neurite outgrowth","slice":"other microtubule regulators","n":1,"cx":646,"cy":503.3},
{"k":"n8","pie":"required for neurite outgrowth","slice":"tubulin regulators","n":2,"cx":646,"cy":503.3}],
"lead":[
{"x":409.3,"y":335,"x2":409.3,"y2":353.3},{"x":435,"y":311.7,"x2":428.3,"y2":335},{"x":428.3,"y":335,"x2":428.3,"y2":353},{"x":448.3,"y":336.7,"x2":441.7,"y2":338.3},{"x":441.7,"y":338.3,"x2":441.7,"y2":354.3},{"x":481.7,"y":336.7,"x2":457.7,"y2":343.3},{"x":457.7,"y":343.3,"x2":457.7,"y2":358.3},{"x":493.3,"y":347.7,"x2":471,"y2":347.7},{"x":471,"y":347.7,"x2":471,"y2":362.3},{"x":518.3,"y":372.3,"x2":493.3,"y2":362.3},{"x":493.3,"y":362.3,"x2":493.3,"y2":375.7},{"x":515.7,"y":406.7,"x2":498.3,"y2":388.3},{"x":498.3,"y":388.3,"x2":498.3,"y2":403.3},{"x":492.7,"y":439,"x2":478.3,"y2":403.3},{"x":478.3,"y":403.3,"x2":478.3,"y2":416.7},{"x":373.3,"y":342.3,"x2":380,"y2":342.3},{"x":380,"y":342.3,"x2":380,"y2":358.3},{"x":643.3,"y":305.7,"x2":650,"y2":305.7},{"x":650,"y":305.7,"x2":650,"y2":321.7},{"x":715,"y":305,"x2":707.7,"y2":308.3},{"x":707.7,"y":308.3,"x2":707.7,"y2":322.3}],
"dtext":[
{"t":"microtubule","x":444.3,"y":287.7},{"t":"nucleation (14)","x":444.3,"y":301},{"t":"tubulins","x":405.7,"y":315.7},{"t":"(23)","x":407.3,"y":330},{"t":"+-TIPs","x":459,"y":316.7},{"t":"(12)","x":459,"y":331},{"t":"tubulin","x":344.3,"y":328.3},{"t":"regulators","x":344.3,"y":341.7},{"t":"(33)","x":345,"y":355.7},{"t":"mitosis regulators (20)","x":541.5,"y":334},{"t":"mitotic kinesins (9)","x":541,"y":348.3},{"t":"non-mitotic","x":548.7,"y":367.3},{"t":"kinesins (53)","x":548.7,"y":380.7},{"t":"cytoplasmic dynein","x":565,"y":400.7},{"t":"& dynactin (31)","x":566.7,"y":414.3},{"t":"axonemal dynein","x":538,"y":441.7},{"t":"& cilia function (24)","x":537,"y":455.7},{"t":"other","x":371,"y":376.7},{"t":"microtubule","x":371,"y":390},{"t":"regulators","x":371,"y":403.3},{"t":"(110)","x":371,"y":415.7},{"t":"tubulin","x":605,"y":291.7},{"t":"regulators (1)","x":605,"y":306},{"t":"+TIPs","x":723.3,"y":290.7},{"t":"(1)","x":723.3,"y":305},{"t":"other microtubule","x":676,"y":356},{"t":"regulators (3)","x":676,"y":370},{"t":"mitosis","x":487.3,"y":525.3},{"t":"regulators (1)","x":487.3,"y":539}],
"dwhite":[{"t":"(63)","x":422.3,"y":425},{"t":"mitotic kinesins","x":448.3,"y":561.7},{"t":"(1)","x":448.3,"y":576},{"t":"cytoplasmic dynein","x":635,"y":521},{"t":"dynactin (8)","x":635,"y":535}],
"dwhite2":[{"t":"MAPs (1)","x":415.7,"y":534.7},{"t":"(6)","x":591.7,"y":502.3},{"t":"MAPs","x":591.7,"y":485.7}],
"dbold":[{"t":"inhibitors of","x":677.7,"y":411.3},{"t":"neurite outgrowth","x":677.7,"y":428.3},{"t":"required for","x":646.7,"y":576.7},{"t":"neurite outgrowth","x":646.7,"y":593.3},{"t":"required for neuronal","x":450,"y":613.7},{"t":"precursor growth","x":450,"y":631}]
},
"layer":[
{"encoding":{"x":{"field":"x","type":"quantitative","scale":{"domain":[0,150],"range":[53.5,348.5]},"axis":{"orient":"bottom","offset":-391.3,"values":[0,50,100,150],"title":"total GFP signal (% of control)","titlePadding":3}},"y":{"field":"y","type":"quantitative","scale":{"domain":[0,150],"range":[250.7,47.7]},"axis":{"orient":"left","offset":-53.5,"values":[0,50,100,150],"title":["total neuronal tubulin signal","(% of control)"],"titlePadding":1}},"color":{"field":"g","type":"nominal","legend":null,"scale":{"domain":["Neil2","Ubn2","Dync1i1","Tuba1a","Dync1i2","Tuba1b","Vps41","Kif11","Spef1","Cdc27","Stk6","Ckap5","Plk1","Tpx2","Mtap2"],"range":["#fad28c","#f0942c","#a5651e","#e8289a","#1f5fa8","#6cc5ee","#1e8c1e","#3ee03a","#1d8a55","#666666","#1a9a94","#2255d8","#5a2ca0","#a0662a","#e88bf0"]}}},
"layer":[
{"data":{"name":"grayA"},"mark":{"type":"point","shape":"diamond","filled":true,"size":20,"opacity":1},"encoding":{"color":{"value":"#bdbdbd"}}},
{"data":{"name":"blackA"},"mark":{"type":"point","shape":"diamond","filled":true,"size":16,"opacity":1},"encoding":{"color":{"value":"#111"}}},
{"data":{"name":"neg"},"mark":{"type":"point","shape":"diamond","filled":true,"size":16,"opacity":1},"encoding":{"color":{"value":"#e8401c"}}},
{"data":{"name":"arrA"},"mark":{"type":"rule","strokeWidth":1.2},"encoding":{"x2":{"field":"x2"},"y2":{"field":"y2"}}},
{"data":{"name":"arrA"},"transform":[{"calculate":"datum.x2","as":"x"},{"calculate":"datum.y2","as":"y"}],"mark":{"type":"point","shape":"circle","filled":true,"size":7,"opacity":1}},
{"data":{"name":"arrA"},"transform":[{"filter":"isValid(datum.hx)"},{"calculate":"atan2((datum.x2-datum.x)*1.967,(datum.y2-datum.y)*1.353)*180/PI","as":"dir"},{"calculate":"datum.hx","as":"x"},{"calculate":"datum.hy","as":"y"}],"mark":{"type":"point","shape":"M0,-5L3.2,4L-3.2,4Z","filled":true,"size":4,"opacity":1},"encoding":{"angle":{"field":"dir","type":"quantitative","scale":null}}},
{"data":{"name":"labA"},"mark":{"type":"text","fontStyle":"italic","fontSize":11},"encoding":{"text":{"field":"t"}}},
{"data":{"values":[{"t":"less cell growth","x":49.1,"y":158.7},{"t":"more cell growth","x":115.3,"y":158.7}]},"mark":{"type":"text","fontSize":13.5},"encoding":{"text":{"field":"t"},"color":{"value":"#777"}}},
{"data":{"values":[{"t":"positive","x":130.8,"y":106},{"t":"controls","x":130.8,"y":95.8}]},"mark":{"type":"text","fontSize":11},"encoding":{"text":{"field":"t"},"color":{"value":"#111"}}},
{"data":{"values":[{"t":"negative","x":13,"y":-6.4},{"t":"controls","x":13,"y":-15}]},"mark":{"type":"text","fontSize":11.5},"encoding":{"text":{"field":"t"},"color":{"value":"#e8401c"}}},
{"data":{"values":[{"t":"A","x":-16,"y":161.6}]},"mark":{"type":"text","font":"Liberation Sans","fontWeight":"bold","fontSize":38,"baseline":"alphabetic"},"encoding":{"text":{"field":"t"},"color":{"value":"#000"}}},
{"data":{"values":[{"x":44,"y":145.6,"a":-90},{"x":118.6,"y":145.6,"a":90}]},"mark":{"type":"point","shape":"M0,-57L8.5,-29L3,-29L3,58L-3,58L-3,-29L-8.5,-29Z","filled":true,"size":4,"opacity":1},"encoding":{"color":{"value":"#666"},"angle":{"field":"a","type":"quantitative","scale":null}}}
]},
{"encoding":{"x":{"field":"x","type":"quantitative","scale":{"domain":[30,150],"range":[418.3,712.7]},"axis":{"orient":"bottom","offset":-391.3,"values":[50,100,150],"title":"total GFP signal (% of control)","titlePadding":3}},"y":{"field":"y","type":"quantitative","scale":{"domain":[-9.4,150],"range":[250.7,47.7]},"axis":{"orient":"left","offset":-418.3,"values":[0,50,100,150],"title":["total neuronal cellbody area","(% of control)"],"titlePadding":3}},"color":{"field":"g","type":"nominal","legend":null,"scale":{"domain":["Tubgcp4","Tubb5","Tubb5l","Tubb2b","Gabarap","Macf1","Mtap1b","Kif3c","Bcl2l11","Tubb3v","Tubb3p"],"range":["#f5a030","#1f8f5a","#5a9a28","#e8401c","#fad28c","#5b2a9e","#4a2090","#2050e0","#8bf08b","#cc88f5","#f090e0"]}}},
"layer":[
{"data":{"name":"grayB"},"mark":{"type":"point","shape":"diamond","filled":true,"size":20,"opacity":1},"encoding":{"color":{"value":"#bdbdbd"}}},
{"data":{"name":"blackB"},"mark":{"type":"point","shape":"diamond","filled":true,"size":16,"opacity":1},"encoding":{"color":{"value":"#111"}}},
{"data":{"name":"arrB"},"mark":{"type":"rule","strokeWidth":1.2},"encoding":{"x2":{"field":"x2"},"y2":{"field":"y2"}}},
{"data":{"name":"arrB"},"transform":[{"calculate":"datum.x2","as":"x"},{"calculate":"datum.y2","as":"y"}],"mark":{"type":"point","shape":"circle","filled":true,"size":7,"opacity":1}},
{"data":{"name":"arrB"},"transform":[{"filter":"isValid(datum.hx)"},{"calculate":"atan2((datum.x2-datum.x)*2.453,(datum.y2-datum.y)*1.273)*180/PI","as":"dir"},{"calculate":"datum.hx","as":"x"},{"calculate":"datum.hy","as":"y"}],"mark":{"type":"point","shape":"M0,-5L3.2,4L-3.2,4Z","filled":true,"size":4,"opacity":1},"encoding":{"angle":{"field":"dir","type":"quantitative","scale":null}}},
{"data":{"name":"labB"},"mark":{"type":"text","fontStyle":"italic","fontSize":11},"encoding":{"text":{"field":"t"}}},
{"data":{"values":[{"t":"increased","x":53.9,"y":166.5},{"t":"neuronal","x":53.9,"y":153.2},{"t":"differentiation","x":53.9,"y":139.8},{"t":"decreased","x":131.8,"y":49.3},{"t":"neuronal","x":131.8,"y":35.9},{"t":"differentiation","x":131.8,"y":21.8}]},"mark":{"type":"text","fontSize":13.5},"encoding":{"text":{"field":"t"},"color":{"value":"#777"}}},
{"data":{"values":[{"t":"positive","x":128.9,"y":123.9},{"t":"controls","x":128.9,"y":113.7}]},"mark":{"type":"text","fontSize":11},"encoding":{"text":{"field":"t"},"color":{"value":"#111"}}},
{"data":{"values":[{"t":"B","x":13.5,"y":162.4}]},"mark":{"type":"text","font":"Liberation Sans","fontWeight":"bold","fontSize":38,"baseline":"alphabetic"},"encoding":{"text":{"field":"t"},"color":{"value":"#000"}}},
{"data":{"values":[{"x":72.4,"y":153.2,"a":-25.6},{"x":106.2,"y":27.8,"a":151}]},"mark":{"type":"point","shape":"M0,-28L11,-8L5,-8L5,28L-5,28L-5,-8L-11,-8Z","filled":true,"size":4,"opacity":1},"encoding":{"color":{"value":"#666"},"angle":{"field":"a","type":"quantitative","scale":null}}}
]},
{"encoding":{"x":{"field":"x","type":"quantitative","scale":{"domain":[50,150],"range":[50,343.3]},"axis":{"orient":"bottom","offset":-70,"values":[60,80,100,120,140],"title":"total neuronal cell body area (% of control)","titlePadding":2}},"y":{"field":"y","type":"quantitative","scale":{"domain":[30,150],"range":[572,369]},"axis":{"orient":"left","offset":-50,"values":[50,100,150],"title":"total neurite length (% of control)","titlePadding":3}},"color":{"field":"g","type":"nominal","legend":null,"scale":{"domain":["Keg1","Tbata","Mapre2","Ttll3","Rock1","Dst","Ltb","Mapre1","Dync1i2","Incenp","Dync1h1","Dctn2","Kif23","Macf1","Gabarap"],"range":["#e8401c","#f5a030","#f59080","#2a50e0","#9050f0","#1f8f5a","#3aa0e0","#3fe0a0","#8a45e0","#2a50e0","#e8279a","#f090d8","#1f8f5a","#f5a030","#f59080"]}}},
"layer":[
{"data":{"name":"grayC"},"mark":{"type":"point","shape":"diamond","filled":true,"size":20,"opacity":1},"encoding":{"color":{"value":"#bdbdbd"}}},
{"data":{"name":"blackC"},"mark":{"type":"point","shape":"diamond","filled":true,"size":16,"opacity":1},"encoding":{"color":{"value":"#111"}}},
{"data":{"name":"arrC"},"mark":{"type":"rule","strokeWidth":1.2},"encoding":{"x2":{"field":"x2"},"y2":{"field":"y2"}}},
{"data":{"name":"arrC"},"transform":[{"calculate":"datum.x2","as":"x"},{"calculate":"datum.y2","as":"y"}],"mark":{"type":"point","shape":"circle","filled":true,"size":7,"opacity":1}},
{"data":{"name":"arrC"},"transform":[{"filter":"isValid(datum.hx)"},{"calculate":"atan2((datum.x2-datum.x)*2.933,(datum.y2-datum.y)*1.692)*180/PI","as":"dir"},{"calculate":"datum.hx","as":"x"},{"calculate":"datum.hy","as":"y"}],"mark":{"type":"point","shape":"M0,-5L3.2,4L-3.2,4Z","filled":true,"size":4,"opacity":1},"encoding":{"angle":{"field":"dir","type":"quantitative","scale":null}}},
{"data":{"name":"labC"},"mark":{"type":"text","fontStyle":"italic","fontSize":11},"encoding":{"text":{"field":"t"}}},
{"data":{"values":[{"t":"increased average","x":100,"y":162.8},{"t":"neurite length","x":100,"y":152.8},{"t":"decreased average","x":132.4,"y":57.9},{"t":"neurite length","x":132.4,"y":48}]},"mark":{"type":"text","fontSize":13.5},"encoding":{"text":{"field":"t"},"color":{"value":"#777"}}},
{"data":{"values":[{"t":"positive","x":128.4,"y":109},{"t":"controls","x":128.4,"y":101.2}]},"mark":{"type":"text","fontSize":11},"encoding":{"text":{"field":"t"},"color":{"value":"#111"}}},
{"data":{"values":[{"t":"C","x":42,"y":181.4}]},"mark":{"type":"text","font":"Liberation Sans","fontWeight":"bold","fontSize":38,"baseline":"alphabetic"},"encoding":{"text":{"field":"t"},"color":{"value":"#000"}}},
{"data":{"values":[{"x":81.6,"y":145.8,"a":-26.6},{"x":109.9,"y":51.4,"a":153}]},"mark":{"type":"point","shape":"M0,-28L11,-8L5,-8L5,28L-5,28L-5,-8L-11,-8Z","filled":true,"size":4,"opacity":1},"encoding":{"color":{"value":"#666"},"angle":{"field":"a","type":"quantitative","scale":null}}}
]},
{"encoding":{"x":{"field":"cx","type":"quantitative","axis":null,"scale":{"domain":[0,757],"range":[0,757]}},"y":{"field":"cy","type":"quantitative","axis":null,"scale":{"domain":[0,642],"range":[0,642]}}},
"layer":[
{"data":{"name":"slices"},"transform":[{"filter":"datum.k=='l5'"}],"mark":{"type":"point","filled":true,"size":4,"opacity":1,"fill":"#6f8eb0","stroke":null,"shape":"M86,0A86,42 0 0 1 84.9,6.7L84.9,23.7A86,42 0 0 0 86,17Z"}},
{"data":{"name":"slices"},"transform":[{"filter":"datum.k=='l6'"}],"mark":{"type":"point","filled":true,"size":4,"opacity":1,"stroke":null,"fill":{"gradient":"linear","x1":0,"x2":1,"y1":0,"y2":0,"stops":[{"offset":0,"color":"#b86400"},{"offset":1,"color":"#7a4500"}]},"shape":"M84.9,6.7A86,42 0 0 1 68.1,25.7L68.1,42.7A86,42 0 0 0 84.9,23.7Z"}},
{"data":{"name":"slices"},"transform":[{"filter":"datum.k=='l7'"}],"mark":{"type":"point","filled":true,"size":4,"opacity":1,"fill":"#8d7a60","stroke":null,"shape":"M68.1,25.7A86,42 0 0 1 43.4,36.3L43.4,53.3A86,42 0 0 0 68.1,42.7Z"}},
{"data":{"name":"slices"},"transform":[{"filter":"datum.k=='l8'"}],"mark":{"type":"point","filled":true,"size":4,"opacity":1,"stroke":null,"fill":{"gradient":"linear","x1":0,"x2":1,"y1":0,"y2":0,"stops":[{"offset":0,"color":"#5a4078"},{"offset":1,"color":"#3a2850"}]},"shape":"M43.4,36.3A86,42 0 0 1 -39.8,37.2L-39.8,54.2A86,42 0 0 0 43.4,53.3Z"}},
{"data":{"name":"slices"},"transform":[{"filter":"datum.k=='l9'"}],"mark":{"type":"point","filled":true,"size":4,"opacity":1,"stroke":null,"fill":{"gradient":"linear","x1":0,"x2":1,"y1":0,"y2":0,"stops":[{"offset":0,"color":"#aaa0c0"},{"offset":1,"color":"#85789e"}]},"shape":"M-39.8,37.2A86,42 0 0 1 -86,0L-86,17A86,42 0 0 0 -39.8,54.2Z"}},
{"data":{"name":"slices"},"transform":[{"filter":"datum.k=='i2'"}],"mark":{"type":"point","filled":true,"size":4,"opacity":1,"stroke":null,"fill":{"gradient":"linear","x1":0,"x2":1,"y1":0,"y2":0,"stops":[{"offset":0,"color":"#a79dbd"},{"offset":0.5,"color":"#8b7fa5"},{"offset":1,"color":"#4e4464"}]},"shape":"M76,0A76,38 0 0 1 -76,0L-76,14A76,38 0 0 0 76,14Z"}},
{"data":{"name":"slices"},"transform":[{"filter":"datum.k=='p1'"}],"mark":{"type":"point","filled":true,"size":4,"opacity":1,"fill":"#6f7550","stroke":null,"shape":"M80.5,0A80.5,39 0 0 1 69.7,19.5L69.7,37.5A80.5,39 0 0 0 80.5,18Z"}},
{"data":{"name":"slices"},"transform":[{"filter":"datum.k=='p2'"}],"mark":{"type":"point","filled":true,"size":4,"opacity":1,"stroke":null,"fill":{"gradient":"linear","x1":0,"x2":1,"y1":0,"y2":0,"stops":[{"offset":0,"color":"#3d86c8"},{"offset":0.5,"color":"#336fa8"},{"offset":1,"color":"#2a4a78"}]},"shape":"M69.7,19.5A80.5,39 0 0 1 -69.7,19.5L-69.7,37.5A80.5,39 0 0 0 69.7,37.5Z"}},
{"data":{"name":"slices"},"transform":[{"filter":"datum.k=='p3'"}],"mark":{"type":"point","filled":true,"size":4,"opacity":1,"fill":"#5a4470","stroke":null,"shape":"M-69.7,19.5A80.5,39 0 0 1 -80.5,0L-80.5,18A80.5,39 0 0 0 -69.7,37.5Z"}},
{"data":{"name":"slices"},"transform":[{"filter":"datum.k=='n3'"}],"mark":{"type":"point","filled":true,"size":4,"opacity":1,"fill":"#3f6a95","stroke":null,"shape":"M89.5,0A89.5,44 0 0 1 88.1,7.6L88.1,26.3A89.5,44 0 0 0 89.5,18.7Z"}},
{"data":{"name":"slices"},"transform":[{"filter":"datum.k=='n4'"}],"mark":{"type":"point","filled":true,"size":4,"opacity":1,"fill":"#4f6f8f","stroke":null,"shape":"M88.1,7.6A89.5,44 0 0 1 71.5,26.5L71.5,45.2A89.5,44 0 0 0 88.1,26.3Z"}},
{"data":{"name":"slices"},"transform":[{"filter":"datum.k=='n5'"}],"mark":{"type":"point","filled":true,"size":4,"opacity":1,"stroke":null,"fill":{"gradient":"linear","x1":0,"x2":1,"y1":0,"y2":0,"stops":[{"offset":0,"color":"#d07408"},{"offset":0.5,"color":"#b86000"},{"offset":1,"color":"#6e3c00"}]},"shape":"M71.5,26.5A89.5,44 0 0 1 -81.1,18.6L-81.1,37.3A89.5,44 0 0 0 71.5,45.2Z"}},
{"data":{"name":"slices"},"transform":[{"filter":"datum.k=='n6'"}],"mark":{"type":"point","filled":true,"size":4,"opacity":1,"fill":"#5a4470","stroke":null,"shape":"M-81.1,18.6A89.5,44 0 0 1 -89.5,0L-89.5,18.7A89.5,44 0 0 0 -81.1,37.3Z"}},
{"data":{"name":"slices"},"mark":{"type":"point","filled":true,"size":4,"opacity":1,"stroke":null},"encoding":{"shape":{"field":"k","type":"nominal","legend":null,"scale":{"domain":["l1","l2","l3","l4","l5","l6","l7","l8","l9","l10","l11","i1","i2","i3","p1","p2","p3","n1","n2","n3","n4","n5","n6","n7","n8"],"range":["M0,-4L0,-42A86,42 0 0 1 19.1,-40.9Z","M0,-4L19.1,-40.9A86,42 0 0 1 34.8,-38.4Z","M0,-4L34.8,-38.4A86,42 0 0 1 57.8,-31.1Z","M0,-4L57.8,-31.1A86,42 0 0 1 66.4,-26.7Z","M0,-4L66.4,-26.7A86,42 0 0 1 84.9,6.7Z","M0,-4L84.9,6.7A86,42 0 0 1 68.1,25.7Z","M0,-4L68.1,25.7A86,42 0 0 1 43.4,36.3Z","M0,-4L43.4,36.3A86,42 0 0 1 -39.8,37.2Z","M0,-4L-39.8,37.2A86,42 0 0 1 -67.2,-26.2Z","M0,-4L-67.2,-26.2A86,42 0 0 1 -31,-39.2Z","M0,-4L-31,-39.2A86,42 0 0 1 0,-42Z","M0,-4L0,-38A76,38 0 0 1 72.3,-11.7Z","M0,-4L72.3,-11.7A76,38 0 1 1 -72.3,-11.7Z","M0,-4L-72.3,-11.7A76,38 0 0 1 0,-38Z","M0,-3L0,-39A80.5,39 0 0 1 69.7,19.5Z","M0,-3L69.7,19.5A80.5,39 0 0 1 -69.7,19.5Z","M0,-3L-69.7,19.5A80.5,39 0 0 1 0,-39Z","M0,-4L0,-44A89.5,44 0 0 1 37.8,-39.9Z","M0,-4L37.8,-39.9A89.5,44 0 0 1 86.8,-10.6Z","M0,-4L86.8,-10.6A89.5,44 0 0 1 88.1,7.6Z","M0,-4L88.1,7.6A89.5,44 0 0 1 71.5,26.5Z","M0,-4L71.5,26.5A89.5,44 0 0 1 -81.1,18.6Z","M0,-4L-81.1,18.6A89.5,44 0 0 1 -54.4,-35Z","M0,-4L-54.4,-35A89.5,44 0 0 1 -37.1,-40Z","M0,-4L-37.1,-40A89.5,44 0 0 1 0,-44Z"]}},"color":{"field":"k","type":"nominal","legend":null,"scale":{"domain":["l1","l2","l3","l4","l5","l6","l7","l8","l9","l10","l11","i1","i2","i3","p1","p2","p3","n1","n2","n3","n4","n5","n6","n7","n8"],"range":["#e3a8a8","#eac6c6","#cddba9","#5f9fe0","#96bce8","#e9800c","#f9c48f","#735a8e","#bcaed3","#9c9360","#e0dcc8","#e8c6c0","#bcaed3","#9c9360","#cddba9","#5b9bdd","#735a8e","#e3a8a8","#cddba9","#5f9fe0","#96bce8","#e9800c","#735a8e","#bcaed3","#9c9360"]}}}},
{"data":{"name":"lead"},"mark":{"type":"rule","color":"#111","strokeWidth":1.2},"encoding":{"x":{"field":"x","type":"quantitative","axis":null},"y":{"field":"y","type":"quantitative","axis":null},"x2":{"field":"x2"},"y2":{"field":"y2"}}},
{"data":{"name":"dtext"},"mark":{"type":"text","font":"Liberation Sans","fontSize":11,"color":"#111"},"encoding":{"x":{"field":"x","type":"quantitative","axis":null},"y":{"field":"y","type":"quantitative","axis":null},"text":{"field":"t"}}},
{"data":{"name":"dwhite"},"mark":{"type":"text","font":"Liberation Sans","fontSize":11,"color":"#f4eef8"},"encoding":{"x":{"field":"x","type":"quantitative","axis":null},"y":{"field":"y","type":"quantitative","axis":null},"text":{"field":"t"}}},
{"data":{"name":"dwhite2"},"mark":{"type":"text","font":"Liberation Sans","fontSize":13,"color":"#f4eef8"},"encoding":{"x":{"field":"x","type":"quantitative","axis":null},"y":{"field":"y","type":"quantitative","axis":null},"text":{"field":"t"}}},
{"data":{"values":[{"t":"MAPs","x":422.3,"y":411}]},"mark":{"type":"text","font":"Liberation Sans","fontSize":16,"color":"#f4eef8"},"encoding":{"x":{"field":"x","type":"quantitative","axis":null},"y":{"field":"y","type":"quantitative","axis":null},"text":{"field":"t"}}},
{"data":{"name":"dbold"},"mark":{"type":"text","font":"Liberation Sans","fontWeight":"bold","fontSize":14.2,"color":"#111"},"encoding":{"x":{"field":"x","type":"quantitative","axis":null},"y":{"field":"y","type":"quantitative","axis":null},"text":{"field":"t"}}},
{"data":{"values":[{"t":"initial library","x":421.7,"y":465}]},"mark":{"type":"text","font":"Liberation Sans","fontWeight":"bold","fontSize":18,"color":"#111"},"encoding":{"x":{"field":"x","type":"quantitative","axis":null},"y":{"field":"y","type":"quantitative","axis":null},"text":{"field":"t"}}},
{"data":{"values":[{"t":"D","x":326,"y":315}]},"mark":{"type":"text","font":"Liberation Sans","fontWeight":"bold","fontSize":38,"baseline":"alphabetic","color":"#000"},"encoding":{"x":{"field":"x","type":"quantitative","axis":null},"y":{"field":"y","type":"quantitative","axis":null},"text":{"field":"t"}}}
]}
]}
